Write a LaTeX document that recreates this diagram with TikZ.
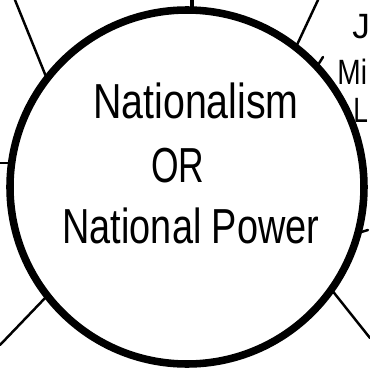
\documentclass[tikz,border=0pt]{standalone}
\usepackage{fontspec}
\setmainfont{Liberation Sans}
\begin{document}
\begin{tikzpicture}[x=0.02cm,y=-0.02cm,
  ring/.style={line width=4.3pt},
  spoke/.style={line width=1.4pt,line cap=round},
  hand/.style={inner sep=0pt,anchor=base,font=\fontsize{28}{34}\selectfont},
  frag/.style={inner sep=0pt,anchor=base west,font=\fontsize{20}{24}\selectfont}]
\useasboundingbox (0,0) rectangle (370,369);
\clip (0,0) rectangle (370,369);
% the hand-drawn circle
\coordinate (c) at (187,187);
\draw[ring] (c) circle[radius=177];
% spoke end points
\coordinate (t0) at (192,0);   \coordinate (t1) at (192,10);
\coordinate (ul0) at (15,0);   \coordinate (ul1) at (47,79);
\coordinate (ur0) at (318,0);  \coordinate (ur1) at (296,47);
\coordinate (l0) at (0,163);   \coordinate (l1) at (12,163);
\coordinate (ll0) at (0,345);  \coordinate (ll1) at (47,296);
\coordinate (lr0) at (370,338);\coordinate (lr1) at (331,289);
\coordinate (r0) at (368,230); \coordinate (r1) at (358,233);
\coordinate (m0) at (323,57);  \coordinate (m1) at (318,65);
\draw[spoke,line width=2.2pt] (t0) -- (t1);
\draw[spoke] (ul0) -- (ul1);
\draw[spoke] (ur0) -- (ur1);
\draw[spoke] (l0) -- (l1);
\draw[spoke] (ll0) -- (ll1);
\draw[spoke] (lr0) -- (lr1);
\draw[spoke] (r1) -- (r0);
\draw[spoke] (m1) -- (m0);
% texts
\node[hand] (n1) at (196,118) {\scalebox{0.8}[1]{Nationalism}};
\node[hand] (n2) at (178,182) {\scalebox{0.72}[1]{OR}};
\node[hand] (n3) at (191,243) {\scalebox{0.77}[1]{National Power}};
% neighbouring words at the right edge
\node[frag] (f1) at (352,38) {J};
\node[frag] (f2) at (337,84) {\scalebox{0.8}[1]{Mi}};
\node[frag] (f3) at (353,122) {\scalebox{0.75}[1]{L}};
\end{tikzpicture}
\end{document}
